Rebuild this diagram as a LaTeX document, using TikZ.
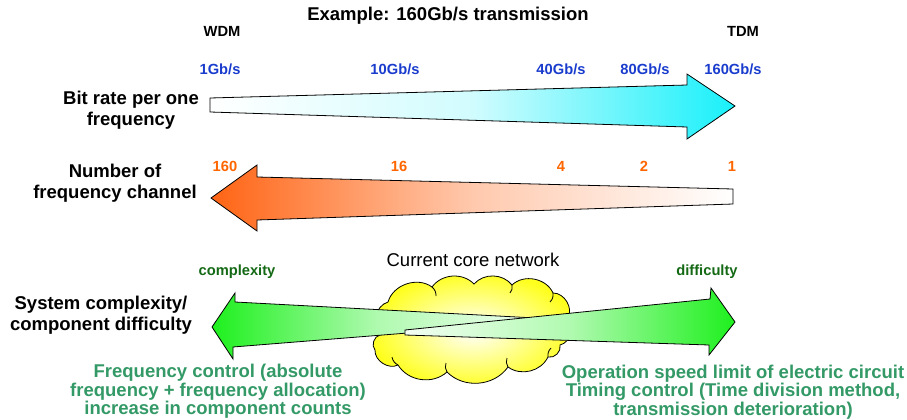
\documentclass[tikz,border=0pt]{standalone}
\usepackage{fontspec}
\setmainfont{Liberation Sans}

\definecolor{blab}{RGB}{25,60,205}
\definecolor{olab}{RGB}{255,102,0}
\definecolor{glab}{RGB}{20,105,20}
\definecolor{gtext}{RGB}{51,153,102}
\definecolor{cyanA}{RGB}{25,240,250}
\definecolor{orangeA}{RGB}{255,100,20}
\definecolor{greenA}{RGB}{30,240,30}
\definecolor{cloudY}{RGB}{255,255,30}

\begin{document}
\begin{tikzpicture}[x=1pt,y=-1pt,
  small/.style={font=\fontsize{14.7}{16}\selectfont\bfseries, inner sep=0pt, text height=0.75em, text depth=0.2em},
  biglabel/.style={font=\fontsize{18.5}{21}\selectfont\bfseries, inner sep=0pt, align=center},
  note/.style={font=\fontsize{18.5}{18.5}\selectfont\bfseries, inner sep=0pt, align=center, text=gtext},
  fatarrow/.style={draw=black, line width=0.8pt, line join=miter},
  cloudline/.style={draw=black, line width=0.8pt},
]
\useasboundingbox (0,0) rectangle (907,420);

% title and ends
\node[font=\fontsize{18.5}{20}\selectfont\bfseries, inner sep=0pt, text height=0.75em, text depth=0.2em] (title) at (448,18) {Example: 160Gb/s transmission};
\node[small] (wdm) at (222,34) {WDM};
\node[small] (tdm) at (743,34) {TDM};

% bit rate arrow
\draw[fatarrow, left color=white, right color=cyanA, middle color=cyanA!20!white]
  (210,98) -- (687,85) -- (687,74) -- (735,106) -- (687,139) -- (687,127) -- (210,112) -- cycle;
\node[small, text=blab] (r1) at (220,72) {1Gb/s};
\node[small, text=blab] (r10) at (395,72) {10Gb/s};
\node[small, text=blab] (r40) at (561,72) {40Gb/s};
\node[small, text=blab] (r80) at (645,72) {80Gb/s};
\node[small, text=blab] (r160) at (733,72) {160Gb/s};
\node[biglabel] (bitrate) at (131,110.4) {Bit rate per one\\frequency};

% channel arrow
\draw[fatarrow, left color=orangeA, right color=white, middle color=orangeA!35!white]
  (211,198) -- (257,165) -- (257,177) -- (733,189) -- (733,204) -- (257,220) -- (257,231) -- cycle;
\node[small, text=olab] (c160) at (225,169) {160};
\node[small, text=olab] (c16) at (399,169) {16};
\node[small, text=olab] (c4) at (561,169) {4};
\node[small, text=olab] (c2) at (644,169) {2};
\node[small, text=olab] (c1) at (732,169) {1};
\node[biglabel] (chan) at (115,183.4) {Number of\\frequency channel};

% cloud
\draw[cloudline, inner color=white, outer color=cloudY]
  (380,335) to[bend left=60] (388,302) to[bend left=55] (432,287) to[bend left=50] (474,284)
  to[bend left=50] (512,285) to[bend left=55] (553,293) to[bend left=60] (568,318)
  to[bend left=60] (560,345) to[bend left=60] (548,357) to[bend left=50] (508,367)
  to[bend left=50] (447,372) to[bend left=50] (398,365) to[bend left=60] (375,350)
  to[bend left=60] (380,335) -- cycle;
\draw[cloudline] (432,287) to[bend left=25] (436,296);
\draw[cloudline] (512,285) to[bend left=25] (510,293);
\draw[cloudline] (553,293) to[bend left=25] (550,302);
\draw[cloudline] (398,365) to[bend left=25] (392,357);
\draw[cloudline] (447,372) to[bend left=25] (446,363);
\draw[cloudline] (508,367) to[bend left=25] (507,358);
\draw[cloudline] (548,357) to[bend left=25] (551,348);
\node[font=\fontsize{18.5}{20}\selectfont, inner sep=0pt, text height=0.75em, text depth=0.2em] (core) at (473,264) {Current core network};

% complexity / difficulty arrows
\draw[fatarrow, left color=greenA, right color=greenA!5!white, middle color=greenA!35!white]
  (212,327) -- (235,293) -- (235,302) -- (545,318.5) -- (545,322) -- (233,347) -- (233,359) -- cycle;
\draw[fatarrow, left color=greenA!5!white, right color=greenA, middle color=greenA!35!white]
  (405,330) -- (710,299) -- (711,288) -- (735,322) -- (709,355) -- (709,345) -- (405,335) -- cycle;
\node[small, text=glab] (cx) at (237,273) {complexity};
\node[small, text=glab] (df) at (707,273) {difficulty};
\node[biglabel] (sys) at (101,315.4) {System complexity/\\component difficulty};

% notes
\node[note] (leftnote) at (218,391.4) {Frequency control (absolute\\frequency + frequency allocation)\\increase in component counts};
\node[note] (rightnote) at (733,392) {Operation speed limit of electric circuit\\Timing control (Time division method,\\transmission deterioration)};
\end{tikzpicture}
\end{document}
